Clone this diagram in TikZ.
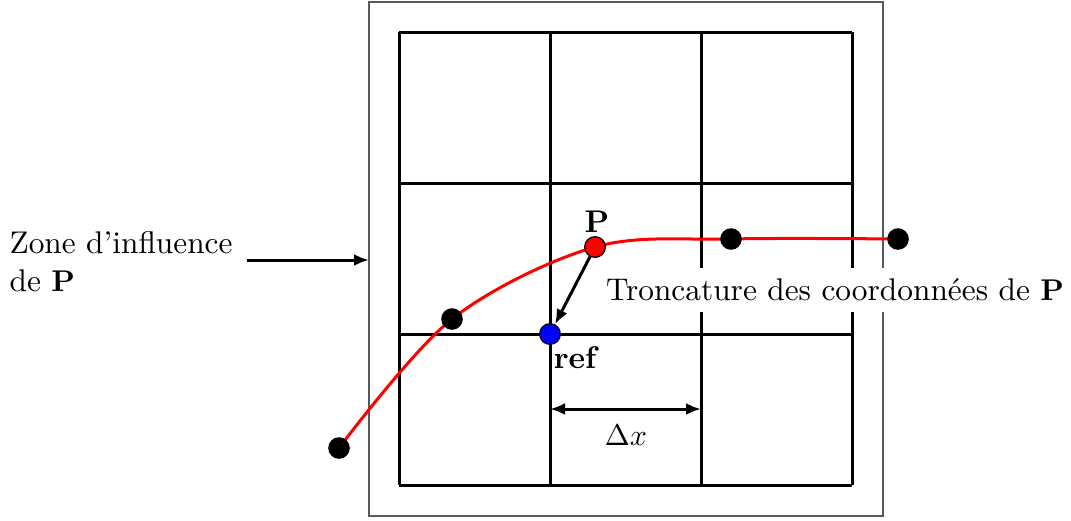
\documentclass[tikz,border=0pt]{standalone}
\usetikzlibrary{arrows.meta}
\begin{document}
\begin{tikzpicture}[x=0.3333pt,y=-0.3333pt,
  every node/.style={font=\fontsize{10.45}{12.6}\selectfont},
  gridline/.style={line width=1pt,black},
  dot/.style={circle,fill=black,inner sep=0pt,minimum size=7.2pt},
  pdot/.style={circle,draw=black,line width=0.4pt,inner sep=0pt,minimum size=6.9pt},
  arr/.style={line width=1pt,-{Latex[length=5pt,width=4pt]}},
  darr/.style={line width=1pt,{Latex[length=5pt,width=4pt]}-{Latex[length=5pt,width=4pt]}}]
\useasboundingbox (0,0) rectangle (1071,520);
% outer zone
\draw[gray!70!black,line width=0.35pt] (369,2) rectangle (883,516);
% grid
\foreach \x in {399,550,701,852} \draw[gridline] (\x,32) -- (\x,485);
\foreach \y in {32,183,334,485} \draw[gridline] (399,\y) -- (852,\y);
% label with white background
\node[fill=white,inner sep=3.5pt] (tronc) at (835,290) {Troncature des coordonn\'ees de $\mathbf{P}$};
% curve
\draw[red,line width=1pt] plot[smooth,tension=0.55] coordinates {(339,448) (452,319) (595,247) (731,239) (898,239)};
\node[dot] (d1) at (339,448) {};
\node[dot] (d2) at (452,319) {};
\node[dot] (d3) at (731,239) {};
\node[dot] (d4) at (898,239) {};
\node[pdot,fill=red] (P) at (595,247) {};
\node[pdot,fill=blue] (ref) at (550,334) {};
\node[font=\fontsize{10.45}{12.6}\selectfont\bfseries,inner sep=0pt] (Plab) at (597,222) {P};
\node[font=\fontsize{10.45}{12.6}\selectfont\bfseries,inner sep=0pt] (reflab) at (575,358) {ref};
\draw[arr] (P) -- (ref);
% zone d'influence
\node[align=left,anchor=west,inner sep=0pt] (zone) at (9,262) {Zone d'influence\\de $\mathbf{P}$};
\coordinate (zs) at (247,260);
\coordinate (ze) at (369,260);
\draw[arr] (zs) -- (ze);
% delta x
\coordinate (dxa) at (550,409);
\coordinate (dxb) at (701,409);
\draw[darr] (dxa) -- (dxb);
\node (dx) at (626,435) {$\Delta x$};
\end{tikzpicture}
\end{document}
